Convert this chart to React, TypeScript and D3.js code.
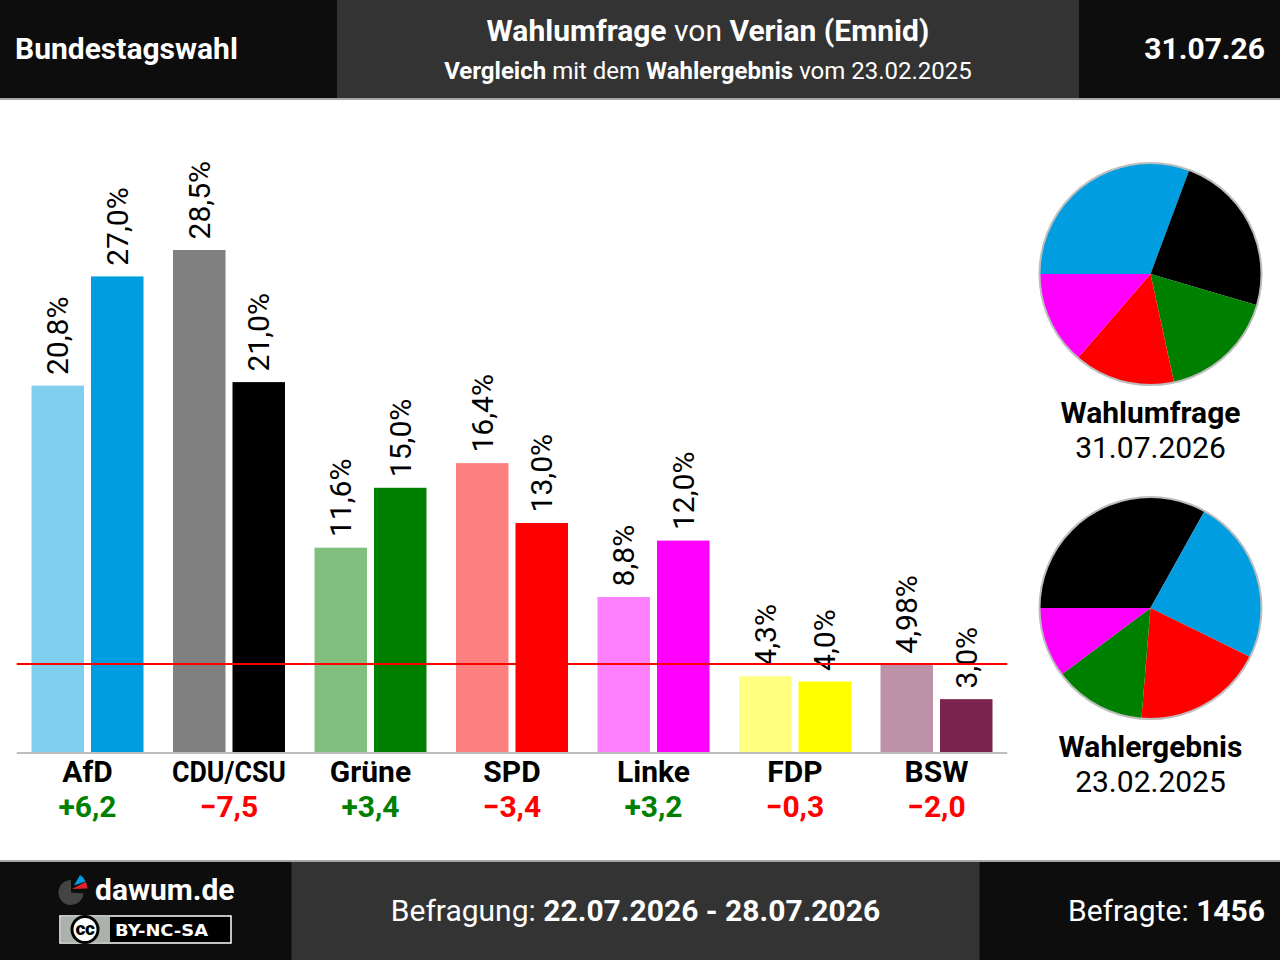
import { useMemo } from "react";
import * as d3 from "d3";

const parties = ["AfD", "CDU/CSU", "Grüne", "SPD", "Linke", "FDP", "BSW"];
const resultValues = [20.8, 28.5, 11.6, 16.4, 8.8, 4.3, 4.98];
const pollValues = [27, 21, 15, 13, 12, 4, 3];
const resultLabels = ["20,8%", "28,5%", "11,6%", "16,4%", "8,8%", "4,3%", "4,98%"];
const pollLabels = ["27,0%", "21,0%", "15,0%", "13,0%", "12,0%", "4,0%", "3,0%"];
const diffLabels = ["+6,2", "−7,5", "+3,4", "−3,4", "+3,2", "−0,3", "−2,0"];
const pollColors = ["#009ee0", "#000000", "#008000", "#ff0000", "#ff00ff", "#ffff00", "#7b2450"];
const resultColors = ["#80cfef", "#808080", "#80bf80", "#ff8080", "#ff80ff", "#ffff80", "#bd91a7"];
const threshold = 5;

const W = 1280;
const H = 960;
const FONT = "Roboto, sans-serif";

// parties under the threshold stay out of the pies
const pieSlices = (values: number[]) =>
  parties
    .map((name, i) => ({ name, value: values[i], color: pollColors[i] }))
    .filter((d) => d.value >= threshold)
    .sort((a, b) => b.value - a.value);

const Pie = ({ values, cx, cy, r }: { values: number[]; cx: number; cy: number; r: number }) => {
  const arcs = useMemo(() => {
    const layout = d3
      .pie<{ value: number }>()
      .value((d) => d.value)
      .sort(null)
      .startAngle(-Math.PI / 2)
      .endAngle((3 * Math.PI) / 2);
    return layout(pieSlices(values));
  }, [values]);
  const arc = d3.arc<d3.PieArcDatum<any>>().innerRadius(0).outerRadius(r);
  return (
    <g transform={`translate(${cx},${cy})`}>
      {arcs.map((a: any) => (
        <path key={a.data.name} d={arc(a) ?? ""} fill={a.data.color} />
      ))}
      <circle r={r} fill="none" stroke="#bdbdbd" strokeWidth={2} />
    </g>
  );
};

const App = () => {
  const x = d3.scaleBand<string>().domain(parties).range([16.75, 1007.25]);
  const y = d3.scaleLinear().domain([0, 28.5]).range([752, 250]);
  const center = (p: string) => (x(p) ?? 0) + x.step() / 2;

  const logoArc = d3.arc();
  const deg = Math.PI / 180;

  return (
    <svg
      width={W}
      height={H}
      viewBox={`0 0 ${W} ${H}`}
      style={{ position: "absolute", left: 0, top: 0, fontFamily: FONT }}
    >
      <rect width={W} height={H} fill="#ffffff" />

      {/* header */}
      <rect width={W} height={98} fill="#0d0d0d" />
      <rect x={337} width={742} height={98} fill="#333333" />
      <rect y={98} width={W} height={2} fill="#a6a6a6" />
      <text x={15} y={59} fontSize={30} fontWeight={700} fill="#fff">Bundestagswahl</text>
      <text x={708} y={41} fontSize={30} textAnchor="middle" fill="#fff">
        <tspan fontWeight={700}>Wahlumfrage</tspan> von <tspan fontWeight={700}>Verian (Emnid)</tspan>
      </text>
      <text x={708} y={79} fontSize={24} textAnchor="middle" fill="#fff">
        <tspan fontWeight={700}>Vergleich</tspan> mit dem <tspan fontWeight={700}>Wahlergebnis</tspan> vom 23.02.2025
      </text>
      <text x={1265} y={59} fontSize={30} fontWeight={700} textAnchor="end" fill="#fff">31.07.26</text>

      {/* bars */}
      {parties.map((p, i) => {
        const c = center(p);
        const rx = c - 56;
        const px = c + 3.5;
        const barW = 52.5;
        return (
          <g key={p}>
            <rect x={rx} y={y(resultValues[i])} width={barW} height={y(0) - y(resultValues[i])} fill={resultColors[i]} />
            <rect x={px} y={y(pollValues[i])} width={barW} height={y(0) - y(pollValues[i])} fill={pollColors[i]} />
            <text
              transform={`translate(${rx + barW / 2 + 10.5},${y(resultValues[i]) - 10.6}) rotate(-90)`}
              fontSize={30}
              fill="#000"
            >
              {resultLabels[i]}
            </text>
            <text
              transform={`translate(${px + barW / 2 + 10.5},${y(pollValues[i]) - 10.6}) rotate(-90)`}
              fontSize={30}
              fill="#000"
            >
              {pollLabels[i]}
            </text>
            <text
              x={c}
              y={782}
              fontSize={30}
              fontWeight={700}
              textAnchor="middle"
              fill="#000"
              {...(p === "CDU/CSU" ? { textLength: 114, lengthAdjust: "spacingAndGlyphs" } : {})}
            >
              {p}
            </text>
            <text
              x={c}
              y={817}
              fontSize={30}
              fontWeight={700}
              textAnchor="middle"
              fill={diffLabels[i].startsWith("+") ? "#008000" : "#ff0000"}
            >
              {diffLabels[i]}
            </text>
          </g>
        );
      })}
      <line x1={16.75} x2={1007.25} y1={y(0) + 1} y2={y(0) + 1} stroke="#bdbdbd" strokeWidth={2} />
      <line x1={16.75} x2={1007.25} y1={y(threshold)} y2={y(threshold)} stroke="#ff0000" strokeWidth={2} />

      {/* pies */}
      <Pie values={pollValues} cx={1150.5} cy={274} r={111} />
      <text x={1150.5} y={423} fontSize={30} fontWeight={700} textAnchor="middle">Wahlumfrage</text>
      <text x={1150.5} y={458} fontSize={30} textAnchor="middle">31.07.2026</text>
      <Pie values={resultValues} cx={1150.5} cy={608} r={111} />
      <text x={1150.5} y={757} fontSize={30} fontWeight={700} textAnchor="middle">Wahlergebnis</text>
      <text x={1150.5} y={792} fontSize={30} textAnchor="middle">23.02.2025</text>

      {/* footer */}
      <rect y={860} width={W} height={2} fill="#a6a6a6" />
      <rect y={862} width={W} height={98} fill="#0d0d0d" />
      <rect x={291.5} y={862} width={688} height={98} fill="#333333" />
      <text x={635.5} y={921} fontSize={30} textAnchor="middle" fill="#fff">
        Befragung: <tspan fontWeight={700}>22.07.2026 - 28.07.2026</tspan>
      </text>
      <text x={1265} y={921} fontSize={30} textAnchor="end" fill="#fff">
        Befragte: <tspan fontWeight={700}>1456</tspan>
      </text>

      {/* logo */}
      <path
        d={logoArc({ innerRadius: 0, outerRadius: 12.5, startAngle: 95 * deg, endAngle: 360 * deg }) ?? ""}
        transform="translate(71,892.5)"
        fill="#444444"
      />
      <path d={logoArc({ innerRadius: 0, outerRadius: 12, startAngle: 30 * deg, endAngle: 70 * deg }) ?? ""} transform="translate(74,885.5)" fill="#009ee0" />
      <path d={logoArc({ innerRadius: 0, outerRadius: 15.5, startAngle: 62 * deg, endAngle: 88 * deg }) ?? ""} transform="translate(72,889)" fill="#e0202a" />
      <text x={95} y={900} fontSize={30} fontWeight={700} fill="#fff">dawum.de</text>

      <rect x={60} y={916} width={171} height={27} fill="#000" stroke="#fff" strokeWidth={1.5} />
      <path d="M61,917H110V942H61Z" fill="#aab2ab" />
      <circle cx={85} cy={929.5} r={13} fill="#fff" stroke="#000" strokeWidth={3} />
      <text x={85} y={935} fontSize={19} fontWeight={900} textAnchor="middle" fill="#000" letterSpacing={-0.5}>cc</text>
      <text
        x={115}
        y={935.5}
        fontSize={16}
        fontWeight={700}
        textLength={93}
        lengthAdjust="spacingAndGlyphs"
        fill="#fff"
        style={{ fontFamily: "DejaVu Sans" }}
      >
        BY-NC-SA
      </text>
    </svg>
  );
};

export default App;
